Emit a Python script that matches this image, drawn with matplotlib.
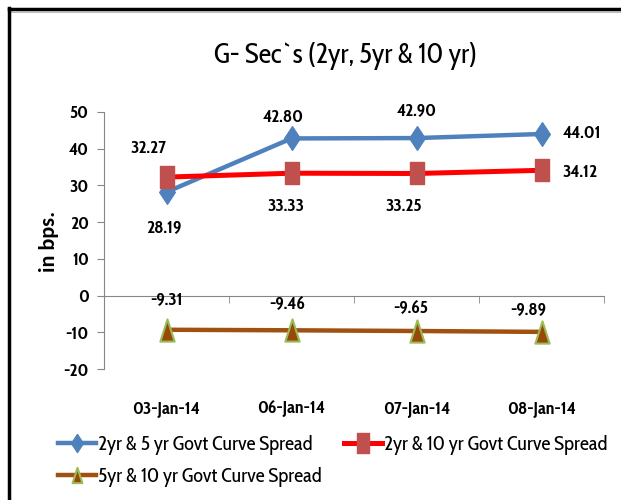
import matplotlib
matplotlib.use("Agg")
import matplotlib.pyplot as plt
from matplotlib.lines import Line2D
from matplotlib.path import Path
import numpy as np

categories = ["03-Jan-14", "06-Jan-14", "07-Jan-14", "08-Jan-14"]
spread_2_5 = [28.19, 42.80, 42.90, 44.01]
spread_2_10 = [32.27, 33.33, 33.25, 34.12]
spread_5_10 = [-9.31, -9.46, -9.65, -9.89]
series_names = ["2yr & 5 yr Govt Curve Spread",
                "2yr & 10 yr Govt Curve Spread",
                "5yr & 10 yr Govt Curve Spread"]
yticks = [-20, -10, 0, 10, 20, 30, 40, 50]

FONT = ["Cabin Condensed", "Carlito", "DejaVu Sans"]
plt.rcParams['font.family'] = FONT

W, H = 621, 500
fig = plt.figure(figsize=(W / 100, H / 100), dpi=100)
ax = fig.add_axes([104 / W, 1 - 369 / H, 500 / W, 257 / H])

# spine positioning first (it resets tick settings)
for s in ["top", "right"]:
    ax.spines[s].set_visible(False)
ax.spines["bottom"].set_position(("data", 0))
ax.spines["left"].set_color("#868686")
ax.spines["bottom"].set_color("#868686")

# narrow marker shapes (chart is horizontally squeezed)
diamond = Path([(0, -0.5), (0.33, 0), (0, 0.5), (-0.33, 0), (0, -0.5)],
               [Path.MOVETO, Path.LINETO, Path.LINETO, Path.LINETO, Path.CLOSEPOLY])
rect = Path([(-0.3, -0.5), (0.3, -0.5), (0.3, 0.5), (-0.3, 0.5), (-0.3, -0.5)],
            [Path.MOVETO, Path.LINETO, Path.LINETO, Path.LINETO, Path.CLOSEPOLY])
tri = Path([(-0.32, -0.5), (0.32, -0.5), (0, 0.5), (-0.32, -0.5)],
           [Path.MOVETO, Path.LINETO, Path.LINETO, Path.CLOSEPOLY])

styles = [
    dict(color="#4F81BD", lw=3.2, marker=diamond, mfc="#4F81BD", mec="#4F81BD", mew=1),
    dict(color="#FF0000", lw=3.6, marker=rect, mfc="#C0504D", mec="#C0504D", mew=1),
    dict(color="#A0500F", lw=3.2, marker=tri, mfc="#984807", mec="#9BBB59", mew=1.5),
]
sizes = [17, 16, 16]
leg_sizes = [13, 14, 11]

x = np.arange(len(categories))
for vals, st, ms in zip((spread_2_5, spread_2_10, spread_5_10), styles, sizes):
    ax.plot(x, vals, ms=ms, zorder=3, **st)

ax.set_xlim(-0.5, len(categories) - 0.5)
ax.set_ylim(-20, 50)
ax.set_yticks(yticks)
ax.set_yticklabels([str(v) for v in yticks], fontsize=13, fontweight="bold")
ax.set_xticks(x)
ax.set_xticklabels(categories, fontsize=13, fontweight="bold")
ax.set_xticks(np.arange(len(categories)) + 0.5, minor=True)

ax.tick_params(axis="y", direction="out", length=5, color="#868686", pad=6)
ax.tick_params(axis="x", which="major", length=0, pad=75)
ax.tick_params(axis="x", which="minor", direction="out", length=5, color="#868686")

fig.text(49 / W, 1 - 241 / H, "in bps.", rotation=90, fontsize=16, fontweight="bold",
         ha="center", va="center", family=["Carlito", "DejaVu Sans"])

# data labels (offsets in pixels)
off1 = [(-3, -35), (-8, 21), (0, 28), (21, 0)]
off2 = [(-18, 29), (-6, -33), (-13, -33), (21, -2)]
off3 = [(0, 30), (-4, 26), (-6, 22), (-13, 22)]
for i in range(len(categories)):
    for vals, offs in ((spread_2_5, off1), (spread_2_10, off2), (spread_5_10, off3)):
        dx, dy = offs[i]
        ha = "left" if (i == 3 and vals is not spread_5_10) else "center"
        ax.annotate(f"{vals[i]:.2f}", (x[i], vals[i]), xytext=(dx, dy),
                    textcoords="offset pixels", ha=ha, va="center",
                    fontsize=13, fontweight="bold", zorder=5)

fig.text(345 / W, 1 - 56 / H, "G- Sec`s (2yr, 5yr & 10 yr)", fontsize=20,
         ha="center", va="center")

handles = [Line2D([], [], ms=m, **st) for st, m in zip(styles, leg_sizes)]
leg = fig.legend([handles[0], handles[2], handles[1]],
                 [series_names[0], series_names[2], series_names[1]],
                 ncol=2, loc="upper left", bbox_to_anchor=(58 / W, 1 - 435 / H),
                 frameon=False, fontsize=14.5, handlelength=1.9, handletextpad=0.1,
                 columnspacing=1.1, labelspacing=0.6, borderaxespad=0, borderpad=0)

# frame lines
fig.add_artist(Line2D([9 / W, 1], [1 - 9 / H, 1 - 9 / H], color="black", lw=2.5,
                      transform=fig.transFigure))
fig.add_artist(Line2D([9 / W, 1], [1 - 12 / H, 1 - 12 / H], color="#B0B0B0", lw=1.2,
                      transform=fig.transFigure))
fig.add_artist(Line2D([9 / W, 9 / W], [0, 1 - 8 / H], color="black", lw=2.5,
                      transform=fig.transFigure))

fig.savefig("out.png", dpi=100)
